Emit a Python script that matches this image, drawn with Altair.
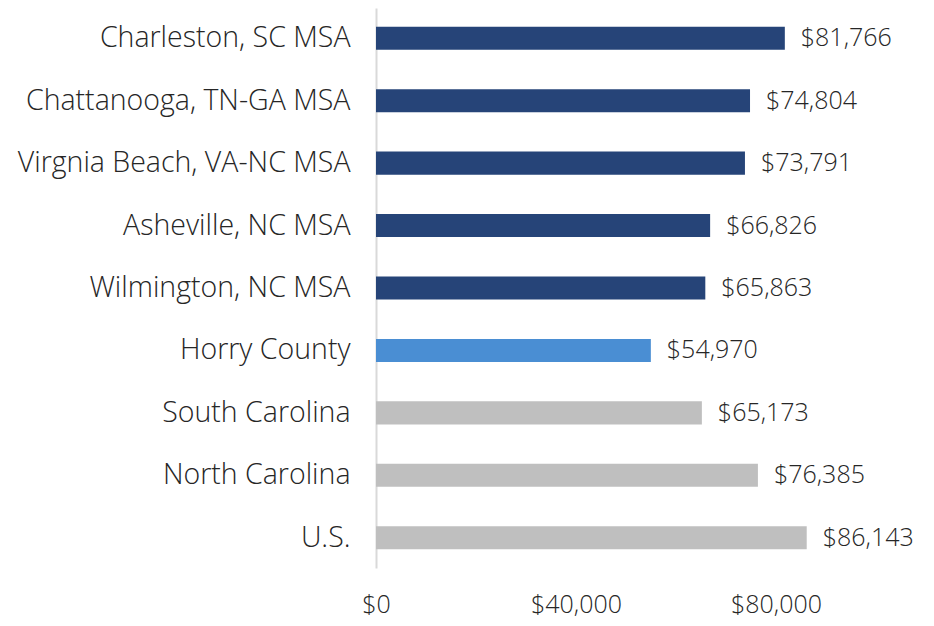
import altair as alt
import pandas as pd

categories = ["Charleston, SC MSA", "Chattanooga, TN-GA MSA", "Virgnia Beach, VA-NC MSA",
              "Asheville, NC MSA", "Wilmington, NC MSA", "Horry County",
              "South Carolina", "North Carolina", "U.S."]
values = [81766, 74804, 73791, 66826, 65863, 54970, 65173, 76385, 86143]
groups = ["msa", "msa", "msa", "msa", "msa", "county", "state", "state", "nation"]
colors = {"msa": "#264478", "county": "#4A8ED3", "state": "#BFBFBF", "nation": "#BFBFBF"}

df = pd.DataFrame({"name": categories, "value": values, "group": groups})
df["color"] = df["group"].map(colors)
df["label"] = df["value"].map(lambda v: "${:,}".format(v))

FONT = "Open Sans"
FW = 300
TC = "#262626"

y = alt.Y("name:N", sort=categories, title=None,
          scale=alt.Scale(paddingInner=0.63, paddingOuter=0.3),
          axis=alt.Axis(domain=True, domainColor="#D9D9D9", domainWidth=2,
                        ticks=False, labelPadding=26, labelFontSize=28.5,
                        labelFont=FONT, labelFontWeight=FW, labelColor=TC, labelLimit=400))

x = alt.X("value:Q", title=None,
          scale=alt.Scale(domain=[0, 100000], nice=False),
          axis=alt.Axis(values=[0, 40000, 80000], format="$,.0f", grid=False,
                        domain=False, ticks=False, labelPadding=24, labelFlush=False,
                        labelFontSize=25, labelFont=FONT, labelFontWeight=FW, labelColor=TC))

bars = alt.Chart(df).mark_bar().encode(x=x, y=y, color=alt.Color("color:N", scale=None))
text = alt.Chart(df).mark_text(align="left", baseline="middle", dx=16, fontSize=25,
                               font=FONT, fontWeight=FW, color=TC).encode(
    x="value:Q", y=alt.Y("name:N", sort=categories), text="label:N")

chart = (bars + text).properties(
    width=500, height=560,
    autosize=alt.AutoSizeParams(type="none"),
    padding={"left": 368, "top": 0, "right": 50, "bottom": 56},
).configure_view(stroke=None)

chart.save("out.html", embed_options={"renderer": "svg", "actions": False})
